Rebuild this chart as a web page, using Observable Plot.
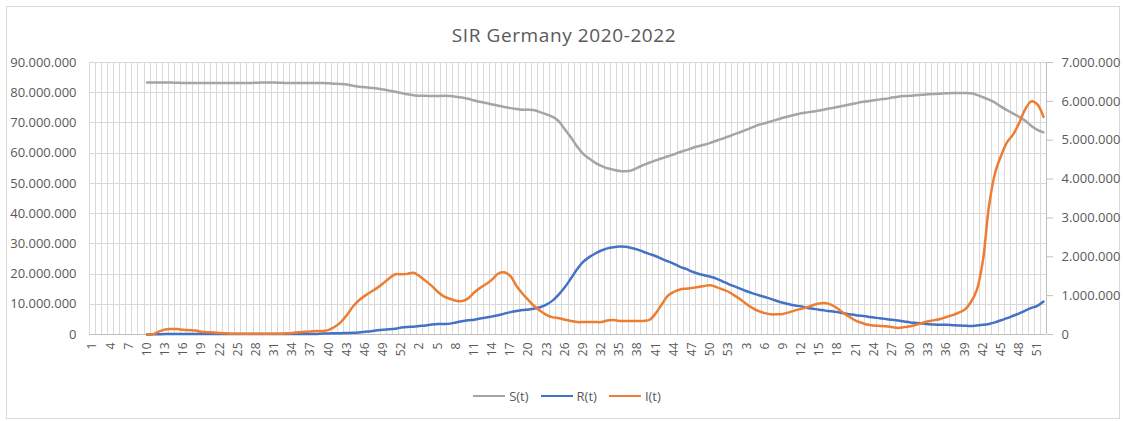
<!DOCTYPE html>
<html>
<head>
<meta charset="utf-8">
<script src="https://cdn.jsdelivr.net/npm/d3@7"></script>
<script src="https://cdn.jsdelivr.net/npm/@observablehq/plot@0.6"></script>
<style>
  body { margin: 0; background: #fff; font-family: "Open Sans", sans-serif; }
  #wrap { position: relative; width: 1126px; height: 421px; overflow: hidden; }
  #border { position: absolute; left: 6px; top: 6px; width: 1114px; height: 413px; border: 1px solid #d9d9d9; box-sizing: border-box; }
  #chart { position: absolute; left: 0; top: 0; }
  #title { position: absolute; left: 0; top: 21px; width: 1128px; text-align: center; font-size: 19px; letter-spacing: 0.6px; color: #595959; line-height: 28px; }
  #legend { position: absolute; left: 4px; top: 386px; width: 1126px; display: flex; justify-content: center; align-items: center; font-size: 13px; color: #595959; line-height: 20px; }
  .item { display: flex; align-items: center; margin: 0 6px; }
  .sw { width: 32px; height: 0; border-top: 2.5px solid; margin-right: 4px; }
</style>
</head>
<body>
<div id="wrap">
  <div id="border"></div>
  <div id="chart"></div>
  <div id="title">SIR Germany 2020-2022</div>
  <div id="legend"></div>
</div>
<script>
// Categories: week numbers as shown on the x axis
const weeks2020 = d3.range(1, 54);
const weeks2021 = d3.range(1, 54);
const weeks2022 = d3.range(1, 53);
const weekLabels = [...weeks2020, ...weeks2021, ...weeks2022];
const firstDataIndex = 9; // data begins at week 10 of 2020

const seriesNames = ["S(t)", "R(t)", "I(t)"];
const seriesColors = ["#a5a5a5", "#4472c4", "#ed7d31"];

// Values in millions (S and R on left axis, I on right axis)
const S = [
  83.4,83.4,83.4,83.4,83.4,83.3,83.2,83.2,83.2,83.2,
  83.2,83.2,83.2,83.2,83.2,83.2,83.2,83.2,83.3,83.4,
  83.4,83.4,83.3,83.2,83.2,83.2,83.2,83.2,83.2,83.2,
  83.1,83.0,82.9,82.7,82.3,82.0,81.8,81.6,81.4,81.1,
  80.7,80.3,79.9,79.5,79.2,79.0,79.0,78.9,78.9,79.0,
  78.9,78.7,78.4,78.0,77.4,77.0,76.6,76.1,75.7,75.3,
  74.9,74.6,74.4,74.4,74.2,73.5,72.8,72.0,70.5,67.8,
  65.2,62.2,59.8,58.2,56.8,55.8,55.0,54.5,54.1,54.0,
  54.3,55.2,56.1,56.9,57.6,58.3,59.0,59.6,60.4,61.0,
  61.7,62.3,62.8,63.4,64.1,64.8,65.5,66.3,67.0,67.8,
  68.6,69.4,69.9,70.5,71.1,71.7,72.2,72.7,73.2,73.5,
  73.8,74.1,74.5,74.9,75.3,75.7,76.1,76.5,76.9,77.2,
  77.5,77.8,78.0,78.4,78.7,78.9,79.0,79.2,79.3,79.5,
  79.6,79.7,79.8,79.9,79.9,79.9,79.8,79.3,78.5,77.7,
  76.7,75.4,74.2,73.1,72.0,70.7,69.0,67.7,66.9
];
const R = [
  0.0,0.05,0.1,0.15,0.15,0.15,0.15,0.15,0.15,0.15,
  0.15,0.15,0.15,0.15,0.15,0.15,0.15,0.15,0.15,0.15,
  0.15,0.15,0.15,0.15,0.15,0.15,0.15,0.15,0.2,0.3,
  0.35,0.4,0.45,0.5,0.55,0.7,0.9,1.1,1.4,1.6,
  1.7,1.9,2.3,2.5,2.6,2.8,3.0,3.3,3.5,3.5,
  3.6,4.0,4.4,4.7,4.9,5.3,5.6,6.0,6.4,6.9,
  7.4,7.8,8.1,8.3,8.6,9.1,10.0,11.3,13.3,15.7,
  18.6,21.6,24.0,25.6,26.8,27.8,28.5,28.9,29.1,29.0,
  28.6,28.1,27.3,26.6,25.9,25.0,24.2,23.4,22.4,21.7,
  20.8,20.1,19.6,19.1,18.5,17.6,16.7,15.9,15.1,14.3,
  13.6,13.0,12.4,11.8,11.1,10.5,10.0,9.6,9.3,8.8,
  8.5,8.2,7.9,7.7,7.4,7.0,6.7,6.4,6.2,5.9,
  5.6,5.4,5.1,4.9,4.6,4.3,4.0,3.8,3.6,3.4,
  3.3,3.2,3.2,3.1,3.0,2.9,2.8,3.0,3.2,3.5,
  4.0,4.7,5.4,6.2,7.0,7.9,8.8,9.5,10.9
];
const I = [
  0.0,0.01,0.08,0.13,0.14,0.14,0.12,0.11,0.1,0.07,
  0.06,0.05,0.04,0.03,0.02,0.02,0.02,0.02,0.02,0.02,
  0.02,0.02,0.02,0.03,0.04,0.06,0.07,0.08,0.09,0.09,
  0.12,0.2,0.32,0.5,0.72,0.88,1.0,1.1,1.2,1.32,
  1.45,1.55,1.55,1.56,1.59,1.5,1.38,1.25,1.1,0.98,
  0.92,0.87,0.86,0.93,1.08,1.2,1.3,1.42,1.57,1.6,
  1.5,1.25,1.05,0.88,0.72,0.6,0.5,0.44,0.42,0.38,
  0.35,0.32,0.32,0.32,0.32,0.32,0.36,0.37,0.35,0.35,
  0.35,0.35,0.35,0.38,0.55,0.78,1.0,1.1,1.16,1.18,
  1.2,1.22,1.25,1.27,1.22,1.16,1.1,1.0,0.9,0.78,
  0.68,0.6,0.55,0.52,0.52,0.53,0.57,0.62,0.66,0.7,
  0.76,0.8,0.81,0.76,0.67,0.55,0.45,0.36,0.3,0.25,
  0.23,0.22,0.21,0.19,0.17,0.19,0.21,0.25,0.3,0.34,
  0.37,0.4,0.45,0.5,0.56,0.64,0.83,1.15,1.9,3.3,
  4.15,4.6,4.95,5.15,5.45,5.8,6.0,5.92,5.6
];
const leftTicks = [0,10e6,20e6,30e6,40e6,50e6,60e6,70e6,80e6,90e6];
const rightTicks = [0,1e6,2e6,3e6,4e6,5e6,6e6,7e6];

const n = weekLabels.length;
const expected = n - firstDataIndex;
[S, R, I].forEach((a, k) => { if (a.length !== expected) throw new Error(seriesNames[k] + " length " + a.length + " != " + expected); });

const leftMax = 90e6, rightMax = 7e6, ratio = leftMax / rightMax;
const fmt = d3.formatLocale({decimal: ",", thousands: ".", grouping: [3], currency: ["", ""]}).format(",.0f");

const toRows = (arr, name, scale) => arr.map((v, j) => ({i: firstDataIndex + j, series: name, v: v * 1e6 * scale}));
const sRows = toRows(S, "S(t)", 1);
const rRows = toRows(R, "R(t)", 1);
const iRows = toRows(I, "I(t)", ratio);

const tickIdx = d3.range(0, n, 3);
const gridX = d3.range(0, n + 1).map(k => k - 0.5);

const chart = Plot.plot({
  width: 1126, height: 421,
  marginTop: 62, marginBottom: 87, marginLeft: 89, marginRight: 80,
  style: {fontFamily: "Open Sans, sans-serif", fontSize: "13px", color: "#595959", background: "transparent"},
  x: {type: "linear", domain: [-0.5, n - 0.5], axis: null},
  y: {domain: [0, leftMax], axis: null},
  color: {domain: seriesNames, range: seriesColors},
  marks: [
    Plot.ruleX(gridX, {stroke: "#d9d9d9", strokeWidth: 1, shapeRendering: "crispEdges"}),
    Plot.ruleY(leftTicks, {stroke: "#d9d9d9", strokeWidth: 1, shapeRendering: "crispEdges"}),
    Plot.ruleY([0], {stroke: "#bfbfbf", strokeWidth: 1, shapeRendering: "crispEdges"}),
    Plot.ruleX([n - 0.5], {stroke: "#bfbfbf", strokeWidth: 1, shapeRendering: "crispEdges"}),
    Plot.axisY(leftTicks, {anchor: "left", tickSize: 0, tickPadding: 13, tickFormat: fmt, label: null, fill: "#595959", fontSize: 13}),
    Plot.axisY(rightTicks.map(v => v * ratio), {anchor: "right", tickSize: 6, tickPadding: 9, tickFormat: v => fmt(Math.round(v / ratio)), label: null, stroke: "#bfbfbf", fill: "#595959", fontSize: 13}),
    Plot.axisX(tickIdx, {anchor: "bottom", tickRotate: -90, tickSize: 0, tickPadding: 8, tickFormat: i => String(weekLabels[i]), label: null, fill: "#595959", fontSize: 12}),
    Plot.line(sRows, {x: "i", y: "v", stroke: "series", curve: "catmull-rom", strokeWidth: 2.5}),
    Plot.line(rRows, {x: "i", y: "v", stroke: "series", curve: "catmull-rom", strokeWidth: 2.5}),
    Plot.line(iRows, {x: "i", y: "v", stroke: "series", curve: "catmull-rom", strokeWidth: 2.5})
  ]
});
document.getElementById("chart").appendChild(chart);

const legend = document.getElementById("legend");
seriesNames.forEach((name, k) => {
  const item = document.createElement("div");
  item.className = "item";
  const sw = document.createElement("div");
  sw.className = "sw";
  sw.style.borderTopColor = seriesColors[k];
  const lab = document.createElement("span");
  lab.textContent = name;
  item.appendChild(sw); item.appendChild(lab);
  legend.appendChild(item);
});
</script>
</body>
</html>
